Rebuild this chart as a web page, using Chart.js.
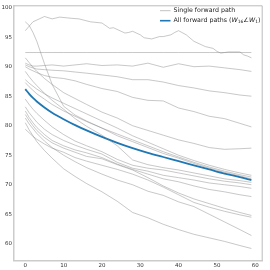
<!DOCTYPE html>
<html>
<head>
<meta charset="utf-8">
<script src="https://cdn.jsdelivr.net/npm/chart.js@4"></script>
<style>
  body { margin: 0; background: #fff; }
  #wrap { width: 270px; height: 270px; position: relative; }
</style>
</head>
<body>
<div id="wrap"><canvas id="chart"></canvas></div>
<script>
// training steps shared by most paths
var steps = [0, 1, 2, 3, 5, 7, 10, 13, 16, 20, 24, 28, 32, 36, 40, 44, 48, 52, 56, 59];

// the wiggly top path gets its own steps
var stepsA = [0, 2, 5, 7, 9, 12, 14, 17, 20, 22, 23, 25, 26, 27, 28, 30, 31, 33, 35, 36, 38, 39, 40, 42, 44, 46, 47, 49, 50, 51, 53, 56, 57, 58, 59];
var pathA = [96.1, 97.6, 98.5, 98.1, 98.4, 98.2, 98.1, 97.6, 97.4, 96.5, 96.6, 96.0, 95.7, 95.8, 96.0, 95.4, 94.9, 94.7, 95.1, 95.1, 95.4, 95.8, 96.1, 95.4, 94.3, 93.7, 93.4, 93.1, 92.6, 92.3, 92.5, 92.5, 92.0, 91.8, 91.5];

var pathFlat = [92.4, 92.4, 92.4, 92.4, 92.4, 92.4, 92.4, 92.4, 92.4, 92.4, 92.4, 92.4, 92.4, 92.4, 92.4, 92.4, 92.4, 92.4, 92.4, 92.4];
var pathB  = [97.6, 97.0, 95.8, 94.3, 90.5, 87.0, 83.3, 81.8, 80.8, 79.6, 78.3, 77.3, 76.3, 75.3, 74.5, 73.6, 72.8, 72.1, 71.5, 71.0];
var pathC  = [90.6, 90.3, 90.1, 90.1, 90.2, 90.3, 90.1, 90.3, 90.5, 90.2, 90.3, 90.1, 90.6, 89.9, 90.5, 90.0, 90.1, 89.8, 89.5, 89.2];
var pathD  = [90.3, 90.0, 89.8, 89.6, 89.5, 89.4, 89.3, 89.1, 88.9, 88.6, 88.3, 87.8, 87.8, 87.4, 86.8, 86.4, 85.9, 85.6, 85.2, 85.0];
var pathE  = [90.0, 89.6, 89.3, 89.0, 88.5, 88.2, 88.0, 87.6, 87.0, 86.3, 85.8, 84.8, 84.3, 84.2, 83.0, 82.4, 81.6, 81.2, 80.4, 79.8];
var pathF  = [91.5, 90.7, 89.9, 89.2, 88.0, 87.0, 85.6, 84.6, 83.6, 82.3, 81.3, 80.0, 79.2, 78.4, 77.6, 77.0, 76.3, 76.0, 76.1, 76.2];
var pathM1 = [87.8, 87.2, 86.7, 86.2, 85.4, 84.7, 83.8, 82.9, 82.0, 80.8, 79.6, 78.3, 77.2, 76.1, 75.0, 74.1, 73.3, 72.6, 72.0, 71.6];
var pathM2 = [87.3, 86.6, 86.0, 85.4, 84.5, 83.6, 82.5, 81.6, 80.7, 79.6, 78.6, 77.6, 76.6, 75.6, 74.7, 73.8, 73.0, 72.3, 71.7, 71.3];
var pathM3 = [89.2, 88.3, 87.5, 86.8, 85.5, 84.3, 82.8, 81.2, 79.9, 78.4, 76.6, 74.2, 73.4, 72.9, 72.5, 72.0, 71.5, 71.0, 70.7, 70.4];
var pathM4 = [84.5, 83.6, 82.8, 82.1, 80.9, 79.8, 78.5, 77.4, 76.6, 75.6, 74.3, 73.3, 72.8, 72.5, 72.0, 71.5, 71.0, 70.6, 70.3, 70.0];
var pathM5 = [83.2, 82.2, 81.4, 80.6, 79.4, 78.5, 77.5, 76.7, 76.0, 75.2, 73.8, 72.8, 72.3, 71.6, 71.2, 70.8, 70.3, 70.0, 69.7, 69.4];
var pathM6 = [82.5, 81.4, 80.5, 79.7, 78.5, 77.5, 76.6, 75.9, 75.4, 74.6, 73.5, 72.6, 71.8, 71.0, 70.5, 69.8, 69.2, 68.8, 68.3, 68.0];
var pathM7 = [81.9, 80.9, 80.0, 79.2, 78.0, 77.1, 76.2, 75.5, 74.8, 74.4, 73.4, 72.5, 71.2, 69.8, 68.6, 67.6, 66.8, 66.0, 65.3, 64.8];
var pathM8 = [79.4, 78.8, 78.2, 77.7, 76.9, 76.2, 75.5, 74.6, 74.0, 73.3, 72.6, 71.8, 70.8, 69.6, 68.3, 67.0, 66.2, 65.5, 64.9, 64.5];
var pathL2 = [81.3, 80.3, 79.5, 78.7, 77.4, 76.3, 75.0, 73.9, 72.9, 71.8, 70.8, 70.0, 68.9, 68.2, 67.1, 66.3, 65.0, 63.7, 62.4, 61.4];
var pathL1 = [80.5, 79.3, 78.3, 77.3, 75.8, 74.5, 72.7, 71.4, 70.2, 68.8, 67.2, 65.3, 64.4, 63.3, 62.4, 61.6, 61.0, 60.4, 59.7, 59.2];

// all forward paths together
var allPaths = [86.2, 85.4, 84.7, 84.1, 83.1, 82.2, 81.1, 80.1, 79.2, 78.1, 77.1, 76.2, 75.4, 74.7, 74.0, 73.3, 72.6, 71.9, 71.3, 70.8];

var yTicks = [60, 65, 70, 75, 80, 85, 90, 95, 100];
var xTicks = [0, 10, 20, 30, 40, 50, 60];

var grey = 'rgba(128,128,128,0.55)';
var blue = '#1f77b4';

var toPoints = (xs, ys) => ys.map((v, i) => ({ x: xs[i], y: v }));

var singles = [pathB, pathFlat, pathC, pathD, pathE, pathF, pathM1, pathM2, pathM3, pathM4, pathM5, pathM6, pathM7, pathM8, pathL2, pathL1];
var datasets = [{ data: toPoints(stepsA, pathA), borderColor: grey, borderWidth: 0.8 }];
singles.forEach(s => datasets.push({ data: toPoints(steps, s), borderColor: grey, borderWidth: 0.8 }));
datasets.push({ data: toPoints(steps, allPaths), borderColor: blue, borderWidth: 1.8, cubicInterpolationMode: 'monotone' });

// frame + legend drawn by hand
var extras = {
  id: 'extras',
  afterDraw: (chart) => {
    var c = chart.ctx, a = chart.chartArea;
    c.save();
    c.strokeStyle = '#bbbbbb';
    c.lineWidth = 1;
    c.beginPath();
    c.moveTo(a.left, a.top + 0.5);
    c.lineTo(a.right - 0.5, a.top + 0.5);
    c.lineTo(a.right - 0.5, a.bottom);
    c.stroke();

    var lx = 160, tx = 173.5, fs = 6.3;
    var f = (p) => p + fs + 'px "DejaVu Sans"';
    c.textBaseline = 'middle';
    c.fillStyle = '#222';
    c.strokeStyle = grey; c.lineWidth = 0.9;
    c.beginPath(); c.moveTo(lx, 10.7); c.lineTo(lx + 10.5, 10.7); c.stroke();
    c.font = f('');
    c.fillText('Single forward path', tx, 10.7);
    c.strokeStyle = blue; c.lineWidth = 1.6;
    c.beginPath(); c.moveTo(lx, 20.7); c.lineTo(lx + 10.5, 20.7); c.stroke();
    var x = tx, y = 20.7;
    var put = (t, font, dy) => { c.font = font; c.fillText(t, x, y + dy); x += c.measureText(t).width; };
    put('All forward paths (', f(''), 0);
    put('W', f('italic '), 0);
    put('16', (fs * 0.7) + 'px "DejaVu Sans"', 1.4);
    put('\u2220', f(''), 0);
    put('W', f('italic '), 0);
    put('1', (fs * 0.7) + 'px "DejaVu Sans"', 1.4);
    put(')', f(''), 0);
    c.restore();
  }
};

new Chart(document.getElementById('chart'), {
  type: 'line',
  data: { datasets: datasets },
  options: {
    responsive: true,
    maintainAspectRatio: false,
    animation: false,
    layout: { padding: { top: 3, right: 7.3, left: 0, bottom: 0 } },
    elements: { point: { radius: 0 }, line: { tension: 0, fill: false } },
    plugins: { legend: { display: false }, tooltip: { enabled: false } },
    scales: {
      x: {
        type: 'linear', min: -2.95, max: 61.95,
        afterBuildTicks: (s) => { s.ticks = xTicks.map(v => ({ value: v })); },
        afterFit: (s) => { s.height = 9.7; },
        grid: { display: false, drawTicks: false },
        border: { display: true, color: '#cccccc', width: 1.5 },
        ticks: { padding: 1.5, maxRotation: 0, color: '#333', font: { family: 'DejaVu Sans', size: 5.5 } }
      },
      y: {
        type: 'linear', min: 57.2, max: 100.4,
        afterBuildTicks: (s) => { s.ticks = yTicks.map(v => ({ value: v })); },
        afterFit: (s) => { s.width = 14; },
        grid: { display: false, drawTicks: false },
        border: { display: true, color: '#cccccc', width: 1.5 },
        ticks: { padding: 2, color: '#333', font: { family: 'DejaVu Sans', size: 5.5 } }
      }
    }
  },
  plugins: [extras]
});
</script>
</body>
</html>
